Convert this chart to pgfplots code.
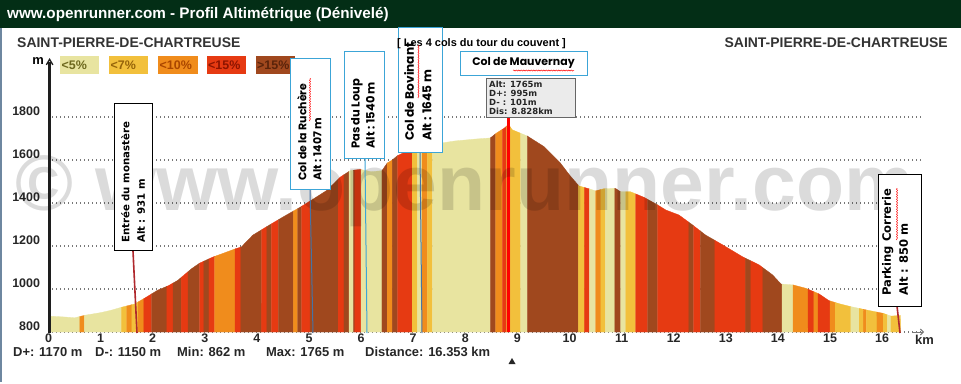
\documentclass[border=0pt]{standalone}
\usepackage{fontspec}
\setmainfont{Liberation Sans}
\newfontfamily\comic{Poppins}
\newfontfamily\tahoma{DejaVu Sans}
\usepackage{graphicx}
\usepackage{pgfplots}
\pgfplotsset{compat=1.18}
\usepgfplotslibrary{fillbetween}
\usetikzlibrary{arrows.meta,decorations.pathmorphing}

\definecolor{cL}{RGB}{232,228,160}
\definecolor{cG}{RGB}{242,192,60}
\definecolor{cO}{RGB}{240,140,28}
\definecolor{cR}{RGB}{230,58,18}
\definecolor{cB}{RGB}{160,72,30}
\definecolor{tL}{RGB}{110,105,30}
\definecolor{tG}{RGB}{150,100,10}
\definecolor{tO}{RGB}{170,70,0}
\definecolor{tR}{RGB}{140,20,0}
\definecolor{tB}{RGB}{90,35,10}
\definecolor{head}{RGB}{3,46,22}
\definecolor{boxblue}{RGB}{60,165,215}
\definecolor{lineRed}{RGB}{175,40,45}
\definecolor{lineBlue}{RGB}{70,115,165}
\definecolor{edgecol}{RGB}{110,135,160}
\definecolor{gridcol}{RGB}{120,120,120}
\definecolor{axiscol}{RGB}{30,30,30}

\newcommand\seg[3]{\addplot[fill=#3, draw=#3, line width=0.3bp] fill between[of=prof and base, soft clip={domain=#1:#2}, on layer=main];}

\begin{document}
\begin{tikzpicture}
\begin{scope}[x=1bp,y=-1bp]
\path (0,0) rectangle (961,382);
\fill[head] (0,0) rectangle (961,28);
\node[anchor=west, text=white, font=\bfseries\fontsize{15.3}{15.3}\selectfont, inner sep=0] at (7,14.5) {www.openrunner.com - Profil Altimétrique (Dénivelé)};
\draw[line width=2bp, edgecol] (1,28) -- (1,382);
\node[anchor=west, inner sep=0, text=black!80, font=\bfseries\fontsize{14}{14}\selectfont] at (17,43) {SAINT-PIERRE-DE-CHARTREUSE};
\node[anchor=east, inner sep=0, text=black!80, font=\bfseries\fontsize{14}{14}\selectfont] at (948,43) {SAINT-PIERRE-DE-CHARTREUSE};
\node[anchor=east, inner sep=0, font=\bfseries\fontsize{13}{13}\selectfont] at (44,61) {m};
% grid lines (behind the profile)
\foreach \gy in {332,289,246,203,160,117}
  \draw[gridcol, line width=1.3bp, dash pattern=on 1.3bp off 2.7bp] (52,\gy) -- (921,\gy);
% legend
\fill[cL] (60,56) rectangle (99,74);
\node[anchor=west, inner sep=0, text=tL, font=\bfseries\fontsize{12.5}{12.5}\selectfont] at (61.5,65.5) {<5\%};
\fill[cG] (109,56) rectangle (148,74);
\node[anchor=west, inner sep=0, text=tG, font=\bfseries\fontsize{12.5}{12.5}\selectfont] at (110.5,65.5) {<7\%};
\fill[cO] (158,56) rectangle (198,74);
\node[anchor=west, inner sep=0, text=tO, font=\bfseries\fontsize{12.5}{12.5}\selectfont] at (159.5,65.5) {<10\%};
\fill[cR] (207,56) rectangle (246,74);
\node[anchor=west, inner sep=0, text=tR, font=\bfseries\fontsize{12.5}{12.5}\selectfont] at (208,65.5) {<15\%};
\fill[cB] (256,56) rectangle (295,74);
\node[anchor=west, inner sep=0, text=tB, font=\bfseries\fontsize{12.5}{12.5}\selectfont] at (257,65.5) {>15\%};
\end{scope}

\begin{axis}[
  scale only axis, width=873.7bp, height=270bp,
  at={(48.5bp,-332bp)}, anchor=south west,
  xmin=0, xmax=16.77, ymin=800, ymax=2055,
  axis x line=bottom, axis y line=left,
  x axis line style={draw=none},
  y axis line style={draw=none},
  xtick={0,...,16}, ytick={800,1000,...,1800},
  major tick length=0pt,
  tick label style={font=\bfseries\fontsize{12.5}{12.5}\selectfont, text=black!85},
  /pgf/number format/assume math mode=true,
  /pgf/number format/1000 sep={},
  yticklabel style={xshift=-5bp, yshift=6bp},
  xticklabel style={yshift=2bp},
  clip=false,
]
\addplot[draw=none, name path=prof] table[x=km, y=elev] {
km elev
0 874
0.3 870
0.5 866
0.7 878
1.0 890
1.2 901
1.4 915
1.65 930
1.85 958
2.1 995
2.3 1015
2.48 1040
2.75 1095
2.9 1120
3.15 1148
3.4 1170
3.6 1188
3.7 1195
3.92 1250
4.19 1290
4.51 1336
4.83 1380
5.08 1418
5.34 1458
5.6 1520
5.79 1550
5.98 1556
6.2 1545
6.4 1550
6.5 1585
6.6 1600
6.7 1620
6.98 1652
7.2 1664
7.37 1672
7.8 1688
8.2 1697
8.48 1702
8.6 1725
8.75 1748
8.83 1765
8.9 1740
9.19 1711
9.51 1662
9.83 1584
10.0 1530
10.18 1479
10.4 1464
10.5 1456
10.66 1466
10.88 1468
10.98 1452
11.17 1452
11.43 1426
11.69 1391
11.85 1367
12.1 1344
12.36 1298
12.61 1251
12.94 1205
13.32 1150
13.64 1112
13.9 1065
14.06 1023
14.29 1019
14.54 1003
14.79 977
14.98 946
15.2 930
15.4 918
15.71 902
16.02 887
16.17 874
16.353 877
};
\addplot[draw=none, name path=base] coordinates {(0,800) (16.353,800)};
\seg{0}{0.6}{cL}
\seg{0.6}{0.69}{cO}
\seg{0.69}{1.4}{cL}
\seg{1.4}{1.5}{cG}
\seg{1.5}{1.6}{cO}
\seg{1.6}{1.72}{cG}
\seg{1.72}{1.83}{cO}
\seg{1.83}{1.98}{cR}
\seg{1.98}{2.27}{cB}
\seg{2.27}{2.39}{cR}
\seg{2.39}{2.55}{cB}
\seg{2.55}{2.68}{cR}
\seg{2.68}{2.9}{cB}
\seg{2.9}{2.98}{cR}
\seg{2.98}{3.08}{cB}
\seg{3.08}{3.19}{cR}
\seg{3.19}{3.58}{cO}
\seg{3.58}{3.69}{cR}
\seg{3.69}{4.09}{cB}
\seg{4.09}{4.19}{cR}
\seg{4.19}{4.28}{cB}
\seg{4.28}{4.41}{cR}
\seg{4.41}{4.70}{cB}
\seg{4.70}{4.78}{cO}
\seg{4.78}{4.86}{cB}
\seg{4.86}{5.02}{cR}
\seg{5.02}{5.56}{cB}
\seg{5.56}{5.67}{cR}
\seg{5.67}{5.77}{cB}
\seg{5.77}{5.85}{cL}
\seg{5.85}{5.88}{cB}
\seg{5.88}{6.0}{cR}
\seg{6.0}{6.4}{cL}
\seg{6.4}{6.5}{cB}
\seg{6.5}{6.6}{cO}
\seg{6.6}{6.7}{cB}
\seg{6.7}{6.98}{cR}
\seg{6.98}{7.08}{cG}
\seg{7.08}{7.17}{cL}
\seg{7.17}{7.27}{cO}
\seg{7.27}{7.37}{cG}
\seg{7.37}{8.48}{cL}
\seg{8.48}{8.58}{cB}
\seg{8.58}{8.71}{cO}
\seg{8.71}{8.79}{cR}
\seg{8.79}{8.87}{cO}
\seg{8.87}{9.06}{cG}
\seg{9.06}{9.19}{cL}
\seg{9.19}{10.17}{cB}
\seg{10.17}{10.29}{cG}
\seg{10.29}{10.38}{cR}
\seg{10.38}{10.5}{cL}
\seg{10.5}{10.6}{cO}
\seg{10.6}{10.69}{cG}
\seg{10.69}{10.87}{cL}
\seg{10.87}{10.98}{cB}
\seg{10.98}{11.08}{cL}
\seg{11.08}{11.27}{cG}
\seg{11.27}{11.5}{cR}
\seg{11.5}{11.69}{cB}
\seg{11.69}{12.29}{cR}
\seg{12.29}{12.38}{cB}
\seg{12.38}{12.51}{cR}
\seg{12.51}{12.79}{cB}
\seg{12.79}{13.38}{cR}
\seg{13.38}{13.48}{cB}
\seg{13.48}{13.71}{cR}
\seg{13.71}{14.08}{cB}
\seg{14.08}{14.29}{cL}
\seg{14.29}{14.58}{cO}
\seg{14.58}{14.69}{cR}
\seg{14.69}{14.77}{cO}
\seg{14.77}{15.0}{cR}
\seg{15.0}{15.1}{cO}
\seg{15.1}{15.4}{cG}
\seg{15.4}{15.56}{cL}
\seg{15.56}{15.64}{cG}
\seg{15.64}{15.7}{cO}
\seg{15.7}{15.9}{cG}
\seg{15.9}{16.02}{cO}
\seg{16.02}{16.1}{cG}
\seg{16.1}{16.17}{cL}
\seg{16.17}{16.353}{cG}
\addplot[red, line width=2.2bp] coordinates {(8.828,800) (8.828,1800)};
\end{axis}

\begin{scope}[x=1bp,y=-1bp]
% watermark
\node[anchor=base west, inner sep=0, text=black, opacity=0.14, font=\bfseries\fontsize{79}{79}\selectfont] at (15,210) {© www.openrunner.com};
% y axis as a thin filled bar and a chevron
\fill[axiscol] (48.3,62) rectangle (49.9,333);
\draw[axiscol, line width=1.3bp] (50.6,62) -- (50.6,333);
\fill[axiscol] (45.8,64.5) -- (49.6,58) -- (53.4,64.5) -- (52.3,65.2) -- (49.6,60.6) -- (46.9,65.2) -- cycle;
% x axis arrow and km
\draw[gridcol, line width=1bp, -{Straight Barb[length=3bp,width=6bp]}] (912,332) -- (924,332);
\node[anchor=west, inner sep=0, font=\bfseries\fontsize{13}{13}\selectfont, text=black!85] at (915,340) {km};
% Entree
\draw[line width=1.6bp, lineRed] (133,251) -- (137,333);
\draw[fill=white, line width=0.8bp] (114,103) rectangle (152,250);
\node[rotate=90, anchor=north west, align=left, inner sep=0, font=\tahoma\bfseries\fontsize{10.2}{15.5}\selectfont] at (121,243) {Entrée du monastère\\Alt : 931 m};
% Ruchere
\draw[line width=1bp, lineBlue] (310,189) -- (313,333);
\draw[fill=white, draw=boxblue, line width=0.9bp] (290,58) rectangle (330,189);
\node[rotate=90, anchor=north west, align=left, inner sep=0, font=\comic\bfseries\fontsize{11}{15}\selectfont] at (297,181) {Col de la Ruchère\\Alt : 1407 m};
\draw[red, line width=0.5bp, decorate, decoration={snake, amplitude=0.6bp, segment length=2.5bp}] (310,121) -- (310,78);
% Pas du Loup
\draw[line width=1bp, boxblue] (365,158) -- (367,333);
\draw[fill=white, draw=boxblue, line width=0.9bp] (344,51) rectangle (384,158);
\node[rotate=90, anchor=north west, align=left, inner sep=0, font=\comic\bfseries\fontsize{11.5}{15}\selectfont] at (351,149) {Pas du Loup\\Alt : 1540 m};
% Bovinant
\draw[line width=1bp, lineBlue] (420,152) -- (422,333);
\draw[fill=white, draw=boxblue, line width=0.9bp] (398,27) rectangle (442,152);
\node[anchor=west, inner sep=0, font=\bfseries\fontsize{11}{11}\selectfont] at (397,43.5) {[ Les 4 cols du tour du couvent ]};
\node[rotate=90, anchor=north west, align=left, inner sep=0, font=\comic\bfseries\fontsize{12.2}{17.5}\selectfont] at (404,141) {Col de Bovinant\\Alt : 1645 m};
\draw[red, line width=0.5bp, decorate, decoration={snake, amplitude=0.6bp, segment length=2.5bp}] (418.5,98) -- (418.5,45);
% Mauvernay
\draw[fill=white, draw=boxblue, line width=0.9bp] (460,51) rectangle (587,75);
\node[inner sep=0, font=\comic\bfseries\fontsize{11}{11}\selectfont] at (523.5,63) {Col de Mauvernay};
\draw[red, line width=0.5bp, decorate, decoration={snake, amplitude=0.6bp, segment length=2.5bp}] (513,70.5) -- (574,70.5);
% tooltip
\draw[fill=black!8, draw=black!60, line width=1bp] (486,78) rectangle (575,117);
\node[anchor=north west, align=left, inner sep=0, text=black!85, font=\tahoma\bfseries\fontsize{8.5}{9.2}\selectfont] at (489,80.5) {Alt: 1765m\\D+: 995m\\D- : 101m\\Dis: 8.828km};
% Parking
\draw[line width=1.6bp, lineRed] (897,306) -- (900,333);
\draw[fill=white, line width=0.8bp] (878,174) rectangle (921,306);
\node[rotate=90, anchor=north west, align=left, inner sep=0, font=\tahoma\bfseries\fontsize{11.6}{17}\selectfont] at (882,296) {Parking Correrie\\Alt : 850 m};
\draw[red, line width=0.5bp, decorate, decoration={snake, amplitude=0.6bp, segment length=2.5bp}] (897,240) -- (897,188);
% bottom stats
\begin{scope}[every node/.style={anchor=west, inner sep=0, text=black!85, font=\bfseries\fontsize{13}{13}\selectfont}]
\node at (13,352) {D+: 1170 m};
\node at (95,352) {D-: 1150 m};
\node at (177,352) {Min: 862 m};
\node at (266,352) {Max: 1765 m};
\node at (365,352) {Distance: 16.353 km};
\end{scope}
\fill[black!85] (508.5,364) -- (515.5,364) -- (512,358) -- cycle;
\end{scope}
\end{tikzpicture}
\end{document}
